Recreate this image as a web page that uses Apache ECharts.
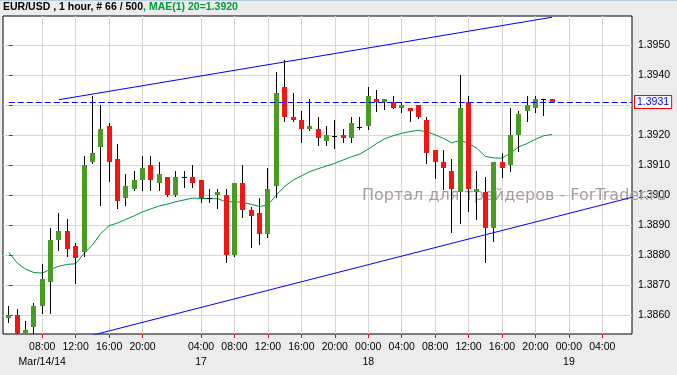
<!DOCTYPE html>
<html><head><meta charset="utf-8">
<script src="https://cdn.jsdelivr.net/npm/echarts@6/dist/echarts.min.js"></script>
<style>html,body{margin:0;padding:0;background:#ececec}#c{width:677px;height:375px}</style>
</head><body><div id="c"></div>
<script>
// EUR/USD 1 hour candles (index 0 = Mar 14 04:00)
const opens  = [1.38591,1.38600,1.38530,1.38561,1.38631,1.38711,1.38851,1.38880,1.38830,1.38809,
                1.39111,1.39161,1.39230,1.39120,1.38991,1.39020,1.39051,1.39100,1.39041,1.39060,
                1.39000,1.39060,1.39060,1.39050,1.38991,1.39001,1.39000,1.38800,1.39040,1.38950,
                1.38940,1.38871,1.39031,1.39360,1.39260,1.39250,1.39220,1.39220,1.39181,1.39198,
                1.39200,1.39190,1.39228,1.39230,1.39320,1.39311,1.39309,1.39291,1.39290,1.39300,
                1.39250,1.39150,1.39111,1.39080,1.39011,1.39309,1.39010,1.39010,1.38891,1.39110,
                1.39101,1.39201,1.39280,1.39290,1.39319,1.39320];
const closes = [1.38600,1.38540,1.38550,1.38630,1.38720,1.38850,1.38880,1.38821,1.38791,1.39100,
                1.39141,1.39220,1.39111,1.38981,1.39030,1.39050,1.39090,1.39050,1.39070,1.39000,
                1.39060,1.39060,1.39041,1.38991,1.38991,1.39010,1.38800,1.39040,1.38951,1.38931,
                1.38871,1.39020,1.39340,1.39261,1.39250,1.39220,1.39230,1.39191,1.39200,1.39198,
                1.39191,1.39240,1.39228,1.39331,1.39311,1.39320,1.39291,1.39300,1.39281,1.39261,
                1.39141,1.39111,1.39091,1.39021,1.39290,1.39021,1.39020,1.38891,1.39110,1.39090,
                1.39200,1.39271,1.39300,1.39320,1.39319,1.39310];
const lows   = [1.38578,1.38525,1.38520,1.38537,1.38608,1.38608,1.38818,1.38798,1.38708,1.38798,
                1.39108,1.38967,1.39048,1.38958,1.38967,1.39017,1.39017,1.39017,1.39017,1.38998,
                1.38998,1.39028,1.39028,1.38978,1.38978,1.38958,1.38778,1.38798,1.38928,1.38828,
                1.38838,1.38859,1.38994,1.39248,1.39247,1.39178,1.39217,1.39168,1.39168,1.39158,
                1.39178,1.39178,1.39220,1.39220,1.39281,1.39288,1.39291,1.39278,1.39248,1.39258,
                1.39108,1.39058,1.39019,1.38878,1.38908,1.38948,1.38919,1.38778,1.38848,1.39059,
                1.39079,1.39147,1.39248,1.39278,1.39268,1.39310];
const highs  = [1.38630,1.38620,1.38580,1.38641,1.38770,1.38891,1.38940,1.38920,1.38840,1.39131,
                1.39330,1.39302,1.39241,1.39170,1.39070,1.39080,1.39130,1.39130,1.39110,1.39060,
                1.39080,1.39080,1.39100,1.39050,1.39020,1.39020,1.39022,1.39040,1.39100,1.38961,
                1.38990,1.39090,1.39410,1.39450,1.39341,1.39280,1.39320,1.39260,1.39230,1.39250,
                1.39220,1.39260,1.39260,1.39361,1.39351,1.39320,1.39330,1.39309,1.39290,1.39300,
                1.39261,1.39150,1.39150,1.39120,1.39400,1.39330,1.39080,1.39060,1.39110,1.39140,
                1.39290,1.39280,1.39330,1.39330,1.39319,1.39320];
// MAE(1) 20 line
const maValues = [1.38809,1.38774,1.38753,1.38742,1.38740,1.38753,1.38763,1.38769,1.38771,1.38806,
                1.38833,1.38872,1.38898,1.38907,1.38919,1.38931,1.38944,1.38954,1.38964,1.38970,
                1.38978,1.38984,1.38990,1.38989,1.38988,1.38988,1.38977,1.38978,1.38976,1.38969,
                1.38962,1.38967,1.39000,1.39029,1.39050,1.39064,1.39078,1.39088,1.39097,1.39106,
                1.39117,1.39128,1.39137,1.39153,1.39172,1.39188,1.39198,1.39206,1.39212,1.39216,
                1.39211,1.39201,1.39189,1.39174,1.39183,1.39172,1.39156,1.39129,1.39124,1.39123,
                1.39140,1.39161,1.39172,1.39186,1.39198,1.39202];
// trend lines [candle index, price]
const upperTrend = [[6, 1.39318], [65, 1.39593]];
const lowerTrend = [[10, 1.38533], [75, 1.38996]];
// x axis ticks (candle index) and labels
const tickIdx   = [4,8,12,16,23,27,31,35,39,43,47,51,55,59,63,67,71];
const tickTimes = ['08:00','12:00','16:00','20:00','04:00','08:00','12:00','16:00','20:00','00:00','04:00','08:00','12:00','16:00','20:00','00:00','04:00'];
const dateIdx   = [4,23,43,67];
const dateTexts = ['Mar/14/14','17','18','19'];
const priceTicks = [1.3860,1.3870,1.3880,1.3890,1.3900,1.3910,1.3920,1.3930,1.3940,1.3950];

const FONT = 'Liberation Sans, Arial, sans-serif';
const UP = '#4a9b24', DOWN = '#f31414';
const lastPrice = closes[closes.length-1];
const X_MIN = -0.69, X_MAX = 74.55;

const candleData = opens.map((o,i)=>[i, o, closes[i], lows[i], highs[i]]);
const maData = maValues.map((v,i)=>[i, v]);

function renderCandle(params, api){
  const i=api.value(0), o=api.value(1), c=api.value(2), l=api.value(3), h=api.value(4);
  const pO=api.coord([i,o]), pC=api.coord([i,c]), pH=api.coord([i,h]), pL=api.coord([i,l]);
  const cx=Math.round(pO[0]-0.5);
  const half=2;
  const yTop=Math.round(Math.min(pO[1],pC[1])), yBot=Math.round(Math.max(pO[1],pC[1]));
  const children=[{type:'line',shape:{x1:cx+0.5,y1:Math.round(pH[1]),x2:cx+0.5,y2:Math.round(pL[1])+1},style:{stroke:'#000',lineWidth:1}}];
  if (yBot-yTop<1) {
    children.push({type:'line',shape:{x1:cx-half,y1:yTop+0.5,x2:cx+half+1,y2:yTop+0.5},style:{stroke:'#000',lineWidth:1}});
  } else {
    children.push({type:'rect',shape:{x:cx-half,y:yTop,width:2*half+1,height:yBot-yTop},style:{fill:c>o?UP:DOWN}});
  }
  return {type:'group',children};
}

const chart = echarts.init(document.getElementById('c'), null, {renderer:'canvas'});
chart.setOption({
  backgroundColor:'#ececec',
  animation:false,
  title:{
    left:3, top:2, padding:0,
    text:'{a|EUR/USD , 1 hour, # 66 / 500}{b|, MAE(1) 20=1.3920}',
    textStyle:{rich:{
      a:{fontSize:10.5,fontFamily:FONT,color:'#000'},
      b:{fontSize:10.5,fontFamily:FONT,color:'#009a3c'}
    }}
  },
  grid:{left:3, top:16, width:629, height:318, show:true, backgroundColor:'#fff', borderColor:'#000', borderWidth:1},
  xAxis:[{
    type:'value', min:X_MIN, max:X_MAX,
    axisLine:{show:false},
    axisTick:{show:true, customValues:tickIdx, length:4, lineStyle:{color:'#ff0000'}},
    axisLabel:{
      customValues:tickIdx, margin:8, color:'#000', fontSize:10.5, fontFamily:FONT,
      formatter:function(v){ const k=tickIdx.indexOf(Math.round(v)); return k<0?'':tickTimes[k]; }
    },
    splitLine:{show:true, lineStyle:{color:'#d6d6d6', width:1}}
  },{
    type:'value', min:X_MIN, max:X_MAX, position:'bottom', offset:15,
    axisLine:{show:false}, axisTick:{show:false}, splitLine:{show:false},
    axisLabel:{
      customValues:dateIdx, margin:8, color:'#000', fontSize:10.5, fontFamily:FONT,
      formatter:function(v){ const k=dateIdx.indexOf(Math.round(v)); return k<0?'':dateTexts[k]; }
    }
  }],
  yAxis:{
    type:'value', position:'right', min:1.38537, max:1.39597, scale:true,
    axisLine:{show:false},
    axisTick:{show:true, customValues:priceTicks, length:4, lineStyle:{color:'#ff0000'}},
    axisLabel:{customValues:priceTicks, margin:6, color:'#000', fontSize:10.5, fontFamily:FONT,
      formatter:function(v){return v.toFixed(4);}},
    splitLine:{show:true, lineStyle:{color:'#d6d6d6', width:1}}
  },
  graphic:[
    {type:'rect', left:0, top:0, shape:{width:677, height:1}, style:{fill:'#b9cde0'}, z:10},
    {type:'text', left:362, top:188, z:1, silent:true,
     style:{text:'Портал для трейдеров - ForTrader.ru', font:'16px "DejaVu Sans", sans-serif', fill:'#a89c9c'}}
  ],
  series:[
    {type:'line', data:maData, showSymbol:false, symbol:'none', lineStyle:{color:'#00963c', width:1}, z:3, silent:true},
    {type:'line', data:upperTrend, showSymbol:false, symbol:'none', lineStyle:{color:'#0000ff', width:1}, z:3, silent:true},
    {type:'line', data:lowerTrend, showSymbol:false, symbol:'none', lineStyle:{color:'#0000ff', width:1}, z:3, silent:true, clip:true},
    {type:'custom', data:candleData, encode:{x:0, y:[1,2,3,4]}, renderItem:renderCandle, clip:true, z:4, silent:true,
     markLine:{
       silent:true, symbol:'none', animation:false,
       lineStyle:{color:'#0000ff', type:[6,3], width:1},
       label:{position:'end', distance:3, formatter:lastPrice.toFixed(4), color:'#0000ff', fontSize:10.5, fontFamily:FONT,
              backgroundColor:'#fff', borderColor:'#ff0000', borderWidth:1, padding:[1,2,0,2]},
       data:[[{coord:[0, lastPrice]}, {coord:[X_MAX, lastPrice]}]]
     }}
  ]
});
</script></body></html>
